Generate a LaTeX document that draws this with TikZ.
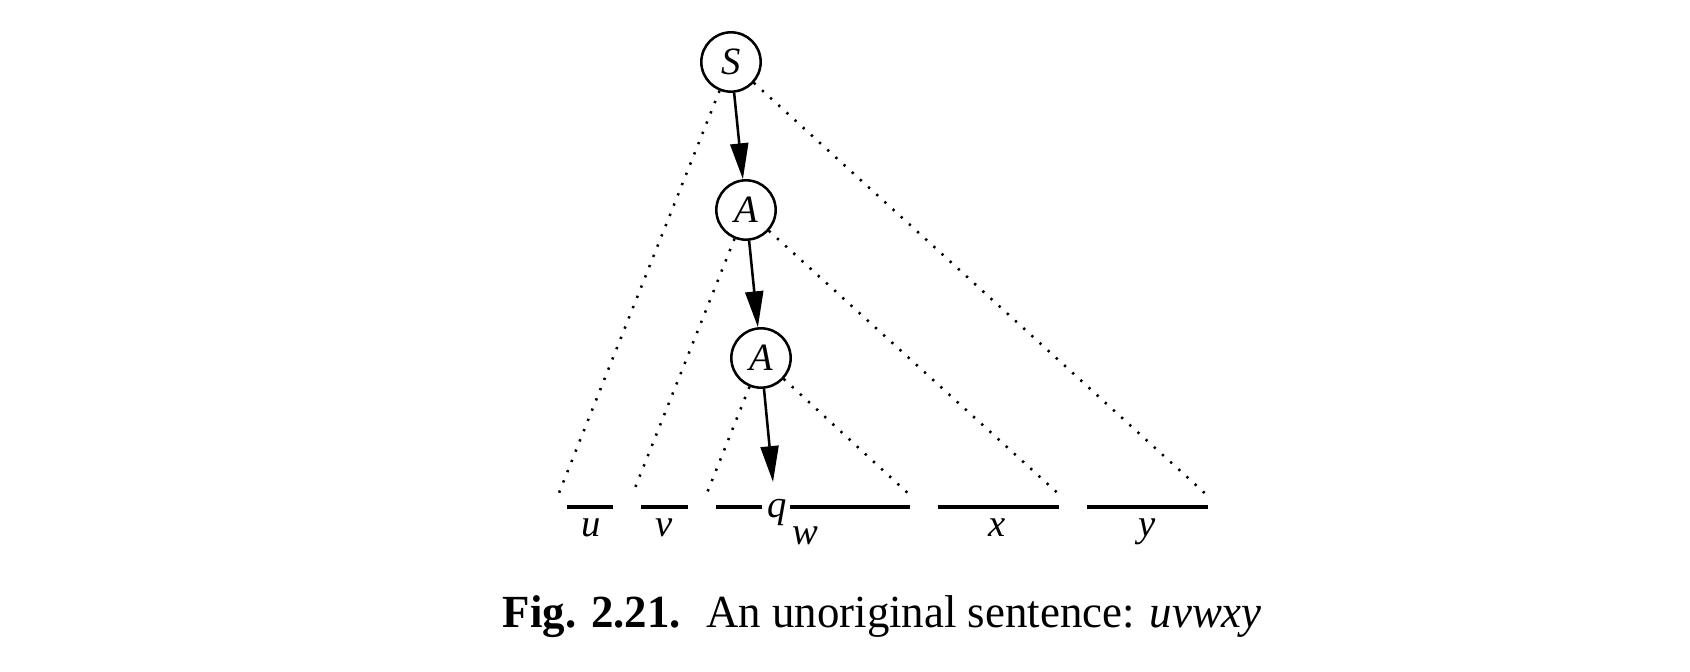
\documentclass[tikz,border=0pt]{standalone}
\usepackage{fontspec}
\setmainfont{Liberation Serif}
\newfontfamily\capfont[FakeStretch=0.975]{Liberation Serif}
\usetikzlibrary{arrows.meta}
\begin{document}
\begin{tikzpicture}[x=0.2174pt,y=-0.2174pt,
  vert/.style={circle,draw,line width=0.55pt,minimum size=12.9pt,inner sep=0pt,font=\fontsize{8.4}{10}\selectfont\itshape},
  arr/.style={line width=0.55pt,-{Triangle[length=7.8pt,width=3.9pt]}},
  dots/.style={line width=0.55pt,dash pattern=on 0.5pt off 1.9pt},
  seg/.style={line width=0.7pt},
  lab/.style={anchor=base,inner sep=0pt,font=\fontsize{8.4}{10}\selectfont\itshape}]
\useasboundingbox (0,0) rectangle (1690,672);
\node[vert] (S) at (731,62) {S};
\node[vert] (A1) at (746,210) {A};
\node[vert] (A2) at (761,358) {A};
\coordinate (SL) at (559,493);
\coordinate (SR) at (1209,497);
\coordinate (A1L) at (633,493);
\coordinate (A1R) at (1062,497);
\coordinate (A2L) at (707,493);
\coordinate (A2R) at (912,497);
\coordinate (qtip) at (773,482);
\draw[dots] (S) -- (SL);
\draw[dots] (S) -- (SR);
\draw[dots] (A1) -- (A1L);
\draw[dots] (A1) -- (A1R);
\draw[dots] (A2) -- (A2L);
\draw[dots] (A2) -- (A2R);
\draw[arr] (S) -- (A1);
\draw[arr] (A1) -- (A2);
\draw[arr] (A2) -- (qtip);
\draw[seg] (567,507) -- (613,507);
\draw[seg] (641,507) -- (688,507);
\draw[seg] (716,507) -- (762,507);
\draw[seg] (790,507) -- (910,507);
\draw[seg] (938,507) -- (1059,507);
\draw[seg] (1087,507) -- (1208,507);
\node[lab] (q) at (777,518) {q};
\node[lab] (u) at (591,537) {u};
\node[lab] (v) at (664,537) {v};
\node[lab] (w) at (805,545) {w};
\node[lab] (x) at (997,537) {x};
\node[lab] (y) at (1147,537) {y};
\node[anchor=base west,inner sep=0pt,font=\capfont\fontsize{10}{12}\selectfont] (cap) at (502,628)
  {\textbf{Fig. 2.21.}\hspace{0.55em}An unoriginal sentence: \textit{uvwxy}};
\end{tikzpicture}
\end{document}
